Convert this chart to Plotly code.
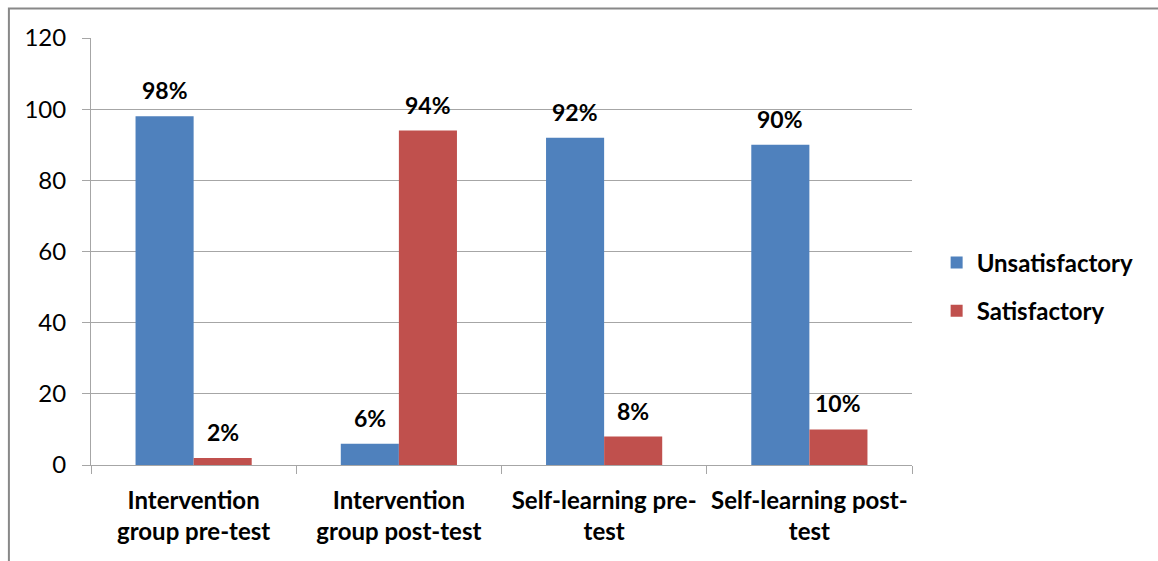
import plotly.graph_objects as go

categories = ["Intervention<br>group pre-test", "Intervention<br>group post-test",
              "Self-learning pre-<br>test", "Self-learning post-<br>test"]
unsatisfactory = [98, 6, 92, 90]
satisfactory = [2, 94, 8, 10]
series_names = ["Unsatisfactory", "Satisfactory"]
colors = ["#4F81BD", "#C0504D"]
y_ticks = [0, 20, 40, 60, 80, 100, 120]

FONT = "Lato"
fig = go.Figure()
for i, (name, vals) in enumerate(zip(series_names, [unsatisfactory, satisfactory])):
    fig.add_trace(go.Bar(x=categories, y=vals, name=name, marker_color=colors[i],
                         marker_line_width=0, legendgroup=name))

annotations = []
for i, vals in enumerate([unsatisfactory, satisfactory]):
    shift = -29 if i == 0 else 29
    for c, v in zip(categories, vals):
        annotations.append(dict(x=c, y=v, xref="x", yref="y", text=f"<b>{v}%</b>",
                                showarrow=False, xshift=shift, yshift=26,
                                yanchor="middle",
                                font=dict(family=FONT, size=23, color="#000")))

fig.update_layout(
    width=1158, height=561,
    margin=dict(l=91, r=246, t=38, b=96, autoexpand=False),
    paper_bgcolor="white", plot_bgcolor="white",
    barmode="group", bargap=0.434, bargroupgap=0,
    font=dict(family=FONT, size=20, color="#000"),
    legend=dict(x=1.03, y=0.417, xanchor="left", yanchor="middle",
                font=dict(family=FONT, size=24, color="#000", weight="bold"),
                tracegroupgap=14, traceorder="grouped"),
    annotations=annotations,
    shapes=[dict(type="rect", xref="paper", yref="paper", x0=-0.100, x1=1.6,
                 y0=1.069, y1=-0.5, line=dict(color="#888888", width=2),
                 fillcolor="rgba(0,0,0,0)", layer="above")],
)
fig.update_yaxes(range=[0, 120], tickvals=y_ticks, showgrid=True, gridcolor="#A6A6A6",
                 gridwidth=1, showline=True, linecolor="#A6A6A6", linewidth=1,
                 ticks="outside", ticklen=8, tickcolor="#A6A6A6", automargin=False,
                 tickfont=dict(family=FONT, size=24, color="#000"), zeroline=False,
                 ticklabelstandoff=11)
fig.update_xaxes(showline=True, linecolor="#A6A6A6", linewidth=1, ticks="outside",
                 ticklen=8, tickcolor="#A6A6A6", tickson="boundaries", tickangle=0,
                 automargin=False,
                 tickfont=dict(family=FONT, size=24, color="#000", weight="bold"),
                 ticklabelstandoff=14)

fig.write_html("out.html")
